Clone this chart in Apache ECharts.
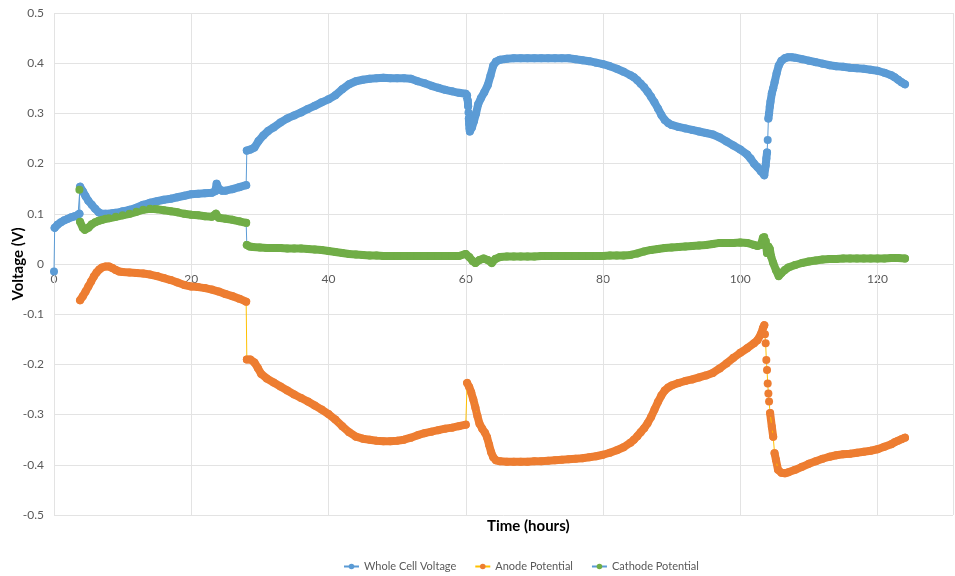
<!DOCTYPE html>
<html>
<head>
<meta charset="utf-8">
<script src="https://cdn.jsdelivr.net/npm/echarts@6/dist/echarts.min.js"></script>
<style>
html,body{margin:0;padding:0;background:#fff;}
#chart{width:955px;height:576px;}
</style>
</head>
<body>
<div id="chart"></div>
<script>
// [time (hours), voltage (V)]
const wholeCell = [
[0,-0.015],[0.1,0.072],[0.5,0.078],[1,0.083],[1.5,0.087],[2,0.09],[2.5,0.093],[3,0.095],[3.5,0.098],[3.7,0.1],
[3.8,0.154],[4.2,0.145],[4.6,0.135],[5,0.126],[5.5,0.118],[6,0.11],[6.5,0.103],[7,0.1],[7.5,0.1],[8,0.1],[8.5,0.101],
[9,0.102],[10,0.105],[11,0.108],[12,0.112],[13,0.118],[14,0.122],[15,0.125],[16,0.128],[17,0.13],[18,0.133],[19,0.136],
[20,0.139],[21,0.14],[22,0.141],[23,0.142],[23.5,0.145],[23.7,0.16],[24,0.15],[24.5,0.146],[25,0.146],[26,0.149],[27,0.153],[28,0.157],
[28.1,0.226],[28.6,0.228],[29.2,0.232],[29.8,0.245],[30.5,0.256],[31.2,0.265],[32,0.272],[33,0.282],[34,0.29],[35,0.296],
[36,0.302],[37,0.309],[38,0.315],[39,0.322],[40,0.328],[41,0.336],[42,0.348],[43,0.358],[44,0.364],[45,0.367],[46,0.369],
[47,0.37],[48,0.371],[49,0.37],[50,0.37],[51,0.37],[52,0.369],[53,0.364],[54,0.36],[55,0.355],[56,0.351],[57,0.347],
[58,0.344],[59,0.341],[60,0.339],[60.2,0.336],[60.3,0.325],[60.35,0.314],[60.4,0.302],[60.45,0.29],[60.5,0.279],
[60.55,0.27],[60.6,0.264],[60.9,0.272],[61.2,0.285],[61.5,0.3],[61.8,0.318],[62.2,0.33],
[62.7,0.342],[63.2,0.356],[63.6,0.375],[64,0.395],[64.4,0.403],[65,0.407],[66,0.409],[67,0.41],[68,0.41],[69,0.41],
[70,0.41],[71,0.41],[72,0.41],[73,0.41],[74,0.41],[75,0.41],[76,0.408],[77,0.406],[78,0.404],[79,0.401],[80,0.398],
[81,0.394],[82,0.389],[83,0.383],[84,0.376],[84.5,0.372],[85,0.366],[85.5,0.359],[86,0.352],[86.5,0.343],[87,0.333],
[87.5,0.322],[88,0.31],[88.5,0.297],[89,0.287],[89.5,0.281],[90,0.277],[91,0.273],[92,0.27],[93,0.267],[94,0.264],
[95,0.261],[96,0.258],[97,0.252],[98,0.244],[99,0.236],[100,0.228],[101,0.218],[101.5,0.21],[102,0.2],[102.5,0.193],
[103,0.185],[103.5,0.177],[103.7,0.196],[103.8,0.21],[103.9,0.222],[104,0.247],[104.1,0.29],[104.2,0.3],[104.3,0.313],
[104.4,0.323],[104.6,0.34],[104.8,0.35],[105,0.362],[105.3,0.38],[105.6,0.395],[106,0.405],[106.5,0.41],[107,0.412],
[107.5,0.412],[108,0.411],[109,0.408],[110,0.405],[111,0.402],[112,0.399],[113,0.396],[114,0.394],[115,0.393],[116,0.391],
[117,0.39],[118,0.389],[119,0.387],[120,0.385],[121,0.381],[122,0.376],[122.5,0.372],[123,0.367],[123.5,0.362],[124,0.358]
];
const anode = [
[3.8,-0.072],[4.2,-0.064],[4.6,-0.055],[5,-0.045],[5.4,-0.035],[5.8,-0.025],[6.2,-0.017],[6.6,-0.011],[7,-0.007],
[7.5,-0.005],[8,-0.005],[8.5,-0.008],[9,-0.012],[9.5,-0.015],[10,-0.016],[11,-0.017],[12,-0.018],[13,-0.019],[14,-0.021],
[15,-0.024],[16,-0.028],[17,-0.032],[18,-0.037],[19,-0.042],[20,-0.045],[21,-0.046],[22,-0.048],[23,-0.051],[24,-0.055],
[25,-0.06],[26,-0.064],[27,-0.069],[28,-0.075],
[28.1,-0.19],[28.6,-0.19],[29.2,-0.196],[29.7,-0.207],[30.2,-0.219],[31,-0.228],[32,-0.236],[33,-0.244],[34,-0.252],
[35,-0.26],[36,-0.267],[37,-0.274],[38,-0.282],[39,-0.29],[40,-0.299],[41,-0.31],[42,-0.323],[43,-0.335],[44,-0.344],
[45,-0.348],[46,-0.35],[47,-0.352],[48,-0.353],[49,-0.353],[50,-0.352],[51,-0.35],[52,-0.346],[53,-0.341],[54,-0.337],
[55,-0.334],[56,-0.331],[57,-0.328],[58,-0.326],[59,-0.323],[60,-0.32],
[60.2,-0.237],[60.5,-0.245],[60.8,-0.256],[61.1,-0.27],[61.4,-0.286],[61.7,-0.303],[62,-0.318],[62.4,-0.328],[62.8,-0.336],
[63.1,-0.345],[63.4,-0.36],[63.7,-0.375],[64,-0.385],[64.4,-0.391],[65,-0.393],[66,-0.394],[67,-0.394],[68,-0.394],
[69,-0.394],[70,-0.393],[71,-0.393],[72,-0.392],[73,-0.391],[74,-0.39],[75,-0.389],[76,-0.388],[77,-0.387],[78,-0.385],
[79,-0.383],[80,-0.38],[81,-0.376],[82,-0.371],[83,-0.365],[84,-0.356],[84.5,-0.35],[85,-0.343],[85.5,-0.335],[86,-0.327],
[86.5,-0.317],[87,-0.305],[87.5,-0.29],[88,-0.275],[88.5,-0.262],[89,-0.252],[89.5,-0.246],[90,-0.242],[91,-0.237],
[92,-0.233],[93,-0.23],[94,-0.226],[95,-0.222],[96,-0.217],[97,-0.208],[98,-0.198],[99,-0.187],[100,-0.177],[101,-0.168],
[102,-0.158],[102.5,-0.152],[103,-0.14],[103.3,-0.128],[103.5,-0.122],
[103.6,-0.14],[103.7,-0.158],[103.8,-0.191],[103.9,-0.211],[104,-0.238],[104.1,-0.258],[104.2,-0.274],[104.35,-0.297],
[104.6,-0.324],[104.8,-0.344],[105,-0.377],[105.2,-0.39],[105.5,-0.41],[106,-0.416],[106.5,-0.417],[107,-0.415],
[108,-0.41],[109,-0.404],[110,-0.398],[111,-0.393],[112,-0.388],[113,-0.384],[114,-0.381],[115,-0.379],[116,-0.378],
[117,-0.376],[118,-0.374],[119,-0.372],[120,-0.369],[121,-0.364],[122,-0.359],[122.5,-0.355],[123,-0.352],[123.5,-0.349],[124,-0.346]
];
const cathode = [
[3.7,0.148],[3.8,0.084],[4.2,0.072],[4.5,0.068],[5,0.072],[5.5,0.079],[6,0.083],[6.5,0.086],[7,0.088],[7.5,0.09],
[8,0.091],[9,0.094],[10,0.097],[11,0.1],[12,0.104],[13,0.108],[14,0.11],[15,0.109],[16,0.107],[17,0.105],[18,0.103],
[19,0.1],[20,0.098],[21,0.097],[22,0.095],[23,0.094],[23.6,0.1],[24,0.092],[25,0.09],[26,0.088],[27,0.085],[28,0.082],
[28.1,0.038],[28.5,0.035],[29,0.034],[30,0.033],[31,0.032],[32,0.032],[33,0.032],[34,0.031],[35,0.031],[36,0.031],
[37,0.03],[38,0.029],[39,0.028],[40,0.026],[41,0.024],[42,0.022],[43,0.02],[44,0.019],[45,0.018],[46,0.017],[47,0.017],
[48,0.016],[49,0.016],[50,0.016],[51,0.016],[52,0.016],[53,0.016],[54,0.016],[55,0.016],[56,0.016],[57,0.016],[58,0.016],
[59,0.016],[60,0.02],[60.5,0.014],[61,0.006],[61.4,0.002],[62,0.008],[62.6,0.011],[63.2,0.008],[63.8,0.002],[64.3,0.01],
[65,0.014],[66,0.015],[67,0.015],[68,0.015],[69,0.015],[70,0.015],[71,0.016],[72,0.016],[73,0.016],[74,0.016],[75,0.016],
[76,0.016],[77,0.016],[78,0.016],[79,0.016],[80,0.016],[81,0.017],[82,0.017],[83,0.017],[84,0.018],[85,0.021],[86,0.025],
[87,0.028],[88,0.03],[89,0.032],[90,0.033],[91,0.034],[92,0.035],[93,0.036],[94,0.037],[95,0.038],[96,0.04],[97,0.042],
[98,0.042],[99,0.042],[100,0.043],[101,0.042],[102,0.038],[102.5,0.036],[103,0.038],[103.3,0.052],[103.5,0.054],
[103.7,0.046],[103.9,0.022],[104.1,0.035],[104.3,0.03],[104.5,0.015],[104.8,0.002],[105.2,-0.012],[105.6,-0.024],
[106,-0.018],[106.5,-0.012],[107,-0.007],[108,-0.002],[109,0.002],[110,0.005],[111,0.007],[112,0.009],[113,0.01],
[114,0.01],[115,0.011],[116,0.011],[117,0.011],[118,0.011],[119,0.011],[120,0.011],[121,0.011],[122,0.012],[123,0.012],[124,0.011]
];
const seriesNames = ['Whole Cell Voltage','Anode Potential','Cathode Potential'];
const xTickLabels = [0, 20, 40, 60, 80, 100, 120];
const yTicks = {min:-0.5, max:0.5, step:0.1};
const xTicks = {min:0, max:131, step:20};

const chart = echarts.init(document.getElementById('chart'));
const FONT = 'Lato, "Open Sans", sans-serif';

// Thick band follows the dense markers; it is broken where consecutive
// readings are far apart (signal jumps), so those show only the thin line.
function band(arr){
  const out = [];
  for (let i = 0; i < arr.length; i++) {
    if (i > 0) {
      const dx = arr[i][0] - arr[i-1][0];
      const dy = Math.abs(arr[i][1] - arr[i-1][1]);
      if (dy / dx > 0.15 && dy > 0.012) out.push([arr[i][0], '-']);
    }
    out.push(arr[i]);
  }
  return out;
}
function markers(name, data, markerColor, lineColor){
  return {
    name: name, type:'line', data: data, z:3,
    symbol:'circle', symbolSize:8, showAllSymbol:true,
    itemStyle:{color:markerColor},
    lineStyle:{color:lineColor, width:1},
    emphasis:{disabled:true}, animation:false
  };
}
function thick(name, data, color){
  return {
    name: name, type:'line', data: band(data), z:2,
    symbol:'none', connectNulls:false,
    lineStyle:{color:color, width:8, cap:'round', join:'round'},
    emphasis:{disabled:true}, animation:false, silent:true
  };
}
chart.setOption({
  animation:false,
  textStyle:{fontFamily:FONT},
  grid:{left:54, right:2, top:13, bottom:61, containLabel:false, outerBoundsMode:'none'},
  legend:{
    data: seriesNames, left:338, top:556, itemWidth:15, itemHeight:7, itemGap:18,
    textStyle:{color:'#595959', fontSize:11, fontFamily:FONT}
  },
  xAxis:{
    type:'value', min:xTicks.min, max:xTicks.max, interval:xTicks.step,
    axisLine:{show:false},
    axisTick:{show:false},
    axisLabel:{show:false},
    splitLine:{show:true, lineStyle:{color:'#e3e3e3'}}
  },
  yAxis:{
    type:'value', min:yTicks.min, max:yTicks.max, interval:yTicks.step,
    name:'Voltage (V)', nameLocation:'middle', nameGap:28, nameRotate:90, nameMoveOverlap:false,
    nameTextStyle:{color:'#000', fontSize:15, fontWeight:'bold', fontFamily:FONT},
    axisLine:{show:false}, axisTick:{show:false},
    axisLabel:{color:'#595959', fontSize:12, margin:10,
      formatter:function(v){ return Math.abs(v)<1e-9 ? '0' : v.toFixed(1); }},
    splitLine:{show:true, lineStyle:{color:'#e3e3e3'}}
  },
  graphic:[{
    id:'xname', type:'text', left:487, top:519,
    style:{text:'Time (hours)', fontSize:15, fontWeight:'bold', fill:'#000', fontFamily:FONT}
  }],
  series:[
    markers(seriesNames[0], wholeCell, '#5B9BD5', '#5B9BD5'),
    markers(seriesNames[1], anode, '#ED7D31', '#FFC000'),
    markers(seriesNames[2], cathode, '#70AD47', '#5B9BD5'),
    thick(seriesNames[0], wholeCell, '#5B9BD5'),
    thick(seriesNames[1], anode, '#ED7D31'),
    thick(seriesNames[2], cathode, '#70AD47')
  ]
});

// Excel-style x axis: tick labels sit just under the zero line.
const tickGraphics = xTickLabels.map(function(v, i){
  const p = chart.convertToPixel({gridIndex:0}, [v, 0]);
  return {
    id:'xt' + i, type:'text', x:p[0], y:p[1] + 9,
    style:{text:String(v), fontSize:12, fill:'#595959', fontFamily:FONT,
           align:'center', verticalAlign:'top'}
  };
});
chart.setOption({graphic: tickGraphics});
</script>
</body>
</html>
